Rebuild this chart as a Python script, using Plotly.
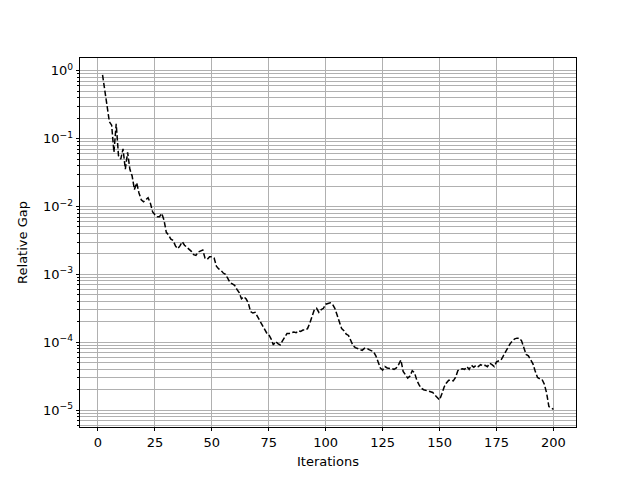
import numpy as np
import plotly.graph_objects as go

# iterations 2..200
iterations = list(range(2, 201))

# log10 of the relative gap, one iteration at a time
log_gap = [
    -0.06, -0.30, -0.55, -0.75, -0.80, -1.20, -0.78, -1.25, -1.30,
    -1.15, -1.45, -1.20, -1.45, -1.55, -1.75, -1.65, -1.80, -1.90, -1.93,
    -1.90, -1.87, -1.95, -2.08, -2.12, -2.15, -2.15, -2.10, -2.20, -2.38,
    -2.42, -2.48, -2.50, -2.58, -2.62, -2.58, -2.52, -2.57, -2.60, -2.63,
    -2.66, -2.71, -2.72, -2.67, -2.66, -2.64, -2.76, -2.78, -2.74, -2.74,
    -2.76, -2.88, -2.92, -2.94, -2.98, -3.00, -3.06, -3.12, -3.14, -3.16,
    -3.22, -3.27, -3.36, -3.33, -3.36, -3.42, -3.55, -3.57, -3.56, -3.62,
    -3.70, -3.76, -3.80, -3.86, -3.89, -3.95, -4.04, -3.99, -4.02, -4.04,
    -3.98, -3.92, -3.87, -3.87, -3.86, -3.85, -3.86, -3.83, -3.84, -3.82,
    -3.82, -3.80, -3.72, -3.62, -3.52, -3.50, -3.56, -3.52, -3.50, -3.44,
    -3.43, -3.42, -3.44, -3.50, -3.60, -3.70, -3.80, -3.83, -3.88, -3.90,
    -3.98, -4.05, -4.08, -4.09, -4.11, -4.12, -4.09, -4.09, -4.11, -4.13,
    -4.14, -4.20, -4.29, -4.38, -4.41, -4.36, -4.38, -4.38, -4.39, -4.40,
    -4.38, -4.33, -4.26, -4.43, -4.48, -4.53, -4.50, -4.42, -4.45, -4.56,
    -4.63, -4.68, -4.70, -4.71, -4.72, -4.72, -4.74, -4.78, -4.82, -4.85,
    -4.76, -4.66, -4.60, -4.56, -4.56, -4.57, -4.52, -4.42, -4.40, -4.39,
    -4.40, -4.36, -4.40, -4.34, -4.37, -4.34, -4.36, -4.33, -4.35, -4.34,
    -4.36, -4.31, -4.33, -4.36, -4.29, -4.28, -4.26, -4.20, -4.14, -4.07,
    -4.02, -3.98, -3.95, -3.94, -3.94, -3.98, -4.10, -4.18, -4.20, -4.27,
    -4.32, -4.43, -4.52, -4.54, -4.55, -4.62, -4.75, -4.95, -4.97, -4.99,
]

x_ticks = [0, 25, 50, 75, 100, 125, 150, 175, 200]
y_exponents = [0, -1, -2, -3, -4, -5]

gap = 10 ** np.array(log_gap)
y_tickvals = [10.0 ** e for e in y_exponents]
y_ticktext = [f"10<sup>{str(e).replace('-', '\u2212')}</sup>" for e in y_exponents]
minor_vals = [m * 10.0 ** e for e in range(-6, 1) for m in range(2, 10)]

grid = "#b0b0b0"

fig = go.Figure(
    go.Scatter(
        x=iterations,
        y=gap,
        mode="lines",
        line=dict(color="black", width=1.5, dash="5.5px,2.4px"),
        showlegend=False,
    )
)

# the page body adds 8px around the figure, so the figure is a bit smaller
fig.update_layout(
    width=624,
    height=464,
    margin=dict(l=72, r=56, t=50, b=45),
    paper_bgcolor="white",
    plot_bgcolor="white",
    font=dict(family="DejaVu Sans", size=13, color="black"),
)
fig.update_xaxes(
    range=[-7.9, 209.9],
    tickvals=x_ticks,
    ticks="outside",
    ticklen=3.5,
    tickwidth=0.8,
    tickcolor="black",
    showgrid=True,
    gridcolor=grid,
    gridwidth=0.8,
    zeroline=False,
    showline=True,
    linecolor="black",
    linewidth=0.8,
    mirror=True,
    automargin=False,
    title_text="Iterations",
    title_font_size=13,
    title_standoff=7,
)
fig.update_yaxes(
    type="log",
    range=[-5.25, 0.19],
    tickvals=y_tickvals,
    ticktext=y_ticktext,
    ticks="outside",
    ticklen=3.5,
    tickwidth=0.8,
    tickcolor="black",
    showgrid=True,
    gridcolor=grid,
    gridwidth=0.8,
    zeroline=False,
    showline=True,
    linecolor="black",
    linewidth=0.8,
    mirror=True,
    automargin=False,
    minor=dict(
        tickmode="array",
        tickvals=minor_vals,
        ticks="outside",
        ticklen=2,
        tickwidth=0.6,
        tickcolor="black",
        showgrid=True,
        gridcolor=grid,
        gridwidth=0.8,
    ),
    title_text="Relative Gap",
    title_font_size=13,
    title_standoff=12,
)

fig.write_html("out.html")
